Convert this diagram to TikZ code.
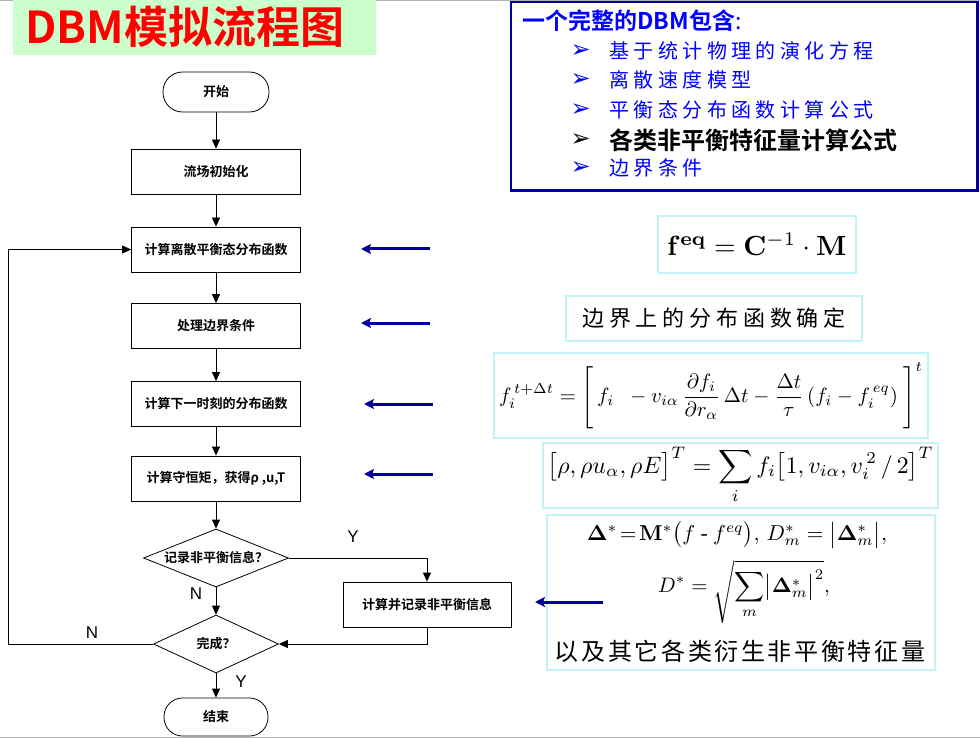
\RequirePackage{fix-cm}
\documentclass[tikz,border=0pt]{standalone}
\usepackage{amsmath}
\usepackage{graphicx}
\usepackage[no-math]{fontspec}
\setmainfont{Liberation Serif}
\newfontfamily\hei{Noto Sans CJK SC}[BoldFont={Noto Sans CJK SC Bold}]
\newfontfamily\kai{Noto Sans CJK SC}[LetterSpace=22]
\newfontfamily\song{Noto Sans CJK SC}[LetterSpace=11]
\newfontfamily\arial{Liberation Sans}
\newfontfamily\dejavu{DejaVu Sans}
\usetikzlibrary{arrows.meta,shapes.geometric}
\definecolor{navy}{RGB}{0,0,150}
\definecolor{boxblue}{RGB}{0,0,160}
\definecolor{txtblue}{RGB}{0,0,255}
\definecolor{cyanb}{RGB}{195,242,247}
\definecolor{titlegreen}{RGB}{204,255,204}
\tikzset{
  flow/.style={draw, line width=0.8pt, minimum width=169pt, minimum height=45pt, inner sep=0pt,
    font=\hei\bfseries\fontsize{13}{15}\selectfont},
  term/.style={draw, line width=0.8pt, rounded corners=19.5pt, minimum width=106pt, minimum height=40pt,
    inner sep=0pt, font=\hei\bfseries\fontsize{13}{15}\selectfont},
  dec/.style={diamond, draw, line width=0.8pt, inner sep=0pt, font=\hei\bfseries\fontsize{13}{15}\selectfont},
  arr/.style={line width=0.8pt, -{Triangle[width=8pt,length=9pt]}},
  barr/.style={navy, line width=3pt, -{Stealth[width=10pt,length=10pt,inset=2pt]}},
  cbox/.style={draw=cyanb, line width=2.5pt, inner sep=0pt},
  yn/.style={font=\arial\fontsize{17}{19}\selectfont},
  item/.style={anchor=west, txtblue, font=\kai\fontsize{20}{22}\selectfont},
  bul/.style={anchor=west, font=\dejavu\fontsize{24}{26}\selectfont},
}
\begin{document}
\begin{tikzpicture}[x=1pt,y=-1pt]
\useasboundingbox (0,0) rectangle (980,738);
\fill[white] (0,0) rectangle (980,738);
\draw[gray!60, line width=1.5pt] (0,0.75) -- (980,0.75);
\draw[gray!60, line width=1.5pt] (0,737.25) -- (980,737.25);

% title
\fill[titlegreen] (13,0) rectangle (376,55);
\node[anchor=west, red, font=\hei\bfseries\fontsize{44}{48}\selectfont] (title) at (22,27) {DBM模拟流程图};

% top-right info box
\draw[boxblue, line width=2.5pt] (511,2) rectangle (977.5,190.5);
\node[anchor=west, txtblue, font=\hei\fontsize{23}{26}\selectfont] (hdr) at (519,21) {{\bfseries 一个完整的DBM包含}:};
\node[bul, txtblue] (b1) at (567,51) {➢};
\node[item] (i1) at (606,51) {基于统计物理的演化方程};
\node[bul, txtblue] (b2) at (567,80) {➢};
\node[item] (i2) at (606,80) {离散速度模型};
\node[bul, txtblue] (b3) at (567,110) {➢};
\node[item] (i3) at (606,110) {平衡态分布函数计算公式};
\node[bul, black] (b4) at (567,140) {➢};
\node[anchor=west, font=\hei\bfseries\fontsize{24}{26}\selectfont] (i4) at (606,140) {各类非平衡特征量计算公式};
\node[bul, txtblue] (b5) at (567,168) {➢};
\node[item] (i5) at (606,168) {边界条件};

% flowchart
\node[term] (start) at (216,92) {开始};
\node[flow] (init) at (216,171.5) {流场初始化};
\node[flow] (eqm) at (216,249.5) {计算离散平衡态分布函数};
\node[flow] (bc) at (216,326) {处理边界条件};
\node[flow] (nxt) at (216,404) {计算下一时刻的分布函数};
\node[flow] (mom) at (216,478.5) {计算守恒矩，获得ρ ,u,T};
\node[dec, aspect=2.5, minimum width=145pt, minimum height=58pt] (d1) at (216,558) {记录非平衡信息？};
\node[flow, minimum width=168pt] (rec) at (427,604.5) {计算并记录非平衡信息};
\node[dec, aspect=2.16, minimum width=125pt, minimum height=58pt] (d2) at (216,644) {完成？};
\node[term, minimum width=104pt, minimum height=38pt, rounded corners=18.5pt] (fin) at (216,717) {结束};
\coordinate (lc) at (8,644);

\draw[arr] (start) -- (init);
\draw[arr] (init) -- (eqm);
\draw[arr] (eqm) -- (bc);
\draw[arr] (bc) -- (nxt);
\draw[arr] (nxt) -- (mom);
\draw[arr] (mom) -- (d1);
\draw[arr] (d1) -- (d2);
\draw[arr] (d1.east) -| (rec.north);
\draw[arr] (rec.south) |- (d2.east);
\draw[arr] (d2.west) -- (lc) |- (eqm.west);
\draw[arr] (d2) -- (fin);
\node[yn] (ly1) at (353,537) {Y};
\node[yn] (ln1) at (196,594) {N};
\node[yn] (ln2) at (92,633) {N};
\node[yn] (ly2) at (241,682) {Y};

% formula boxes
\node[cbox, minimum width=198pt, minimum height=57pt] (f1) at (757,244.5)
  {\resizebox{179pt}{!}{$\mathbf{f}^{\mathbf{eq}}=\mathbf{C}^{-1}\cdot\mathbf{M}$}};
\node[cbox, minimum width=296pt, minimum height=45pt] (f2) at (714,318.5)
  {\kai\fontsize{22}{24}\selectfont 边界上的分布函数确定};
\node[cbox, minimum width=434pt, minimum height=85pt] (f3) at (711,395.5)
  {\resizebox{424pt}{!}{$\displaystyle f_i^{\,t+\Delta t}=\Biggl[\,f_i\;\;-v_{i\alpha}\,\frac{\partial f_i}{\partial r_\alpha}\,\Delta t-\frac{\Delta t}{\tau}\,(f_i-f_i^{\,eq})\;\Biggr]^t$}};
\node[cbox, minimum width=395pt, minimum height=65pt] (f4) at (740.5,475.5)
  {\resizebox{386pt}{!}{$\displaystyle \bigl[\rho,\rho u_\alpha,\rho E\bigr]^T=\sum_i f_i\bigl[1,v_{i\alpha},v_i^{\,2}\,/\,2\bigr]^T$}};
\node[cbox, minimum width=388pt, minimum height=155pt] (f5) at (741,592.5) {};
\node[inner sep=0pt] (f5a) at (737,535)
  {\resizebox{300pt}{!}{$\mathbf{\Delta}^{*}\!=\!\mathbf{M}^{*}\bigl(f\ \textrm{-}\ f^{eq}\bigr),\,D_m^{*}=\bigl|\mathbf{\Delta}_m^{*}\bigr|,$}};
\node[inner sep=0pt] (f5b) at (744,592)
  {\resizebox{172pt}{!}{$\displaystyle D^{*}=\sqrt{\sum_m\bigl|\mathbf{\Delta}_m^{*}\bigr|^2},$}};
\node[font=\song\fontsize{24}{26}\selectfont] (f5c) at (740,651) {以及其它各类衍生非平衡特征量};

% blue arrows
\coordinate (a1s) at (430,249); \coordinate (a1e) at (361,249);
\coordinate (a2s) at (430,323); \coordinate (a2e) at (361,323);
\coordinate (a3s) at (433,404); \coordinate (a3e) at (364,404);
\coordinate (a4s) at (433,474); \coordinate (a4e) at (364,474);
\coordinate (a5s) at (603,602); \coordinate (a5e) at (535,602);
\draw[barr] (a1s) -- (a1e);
\draw[barr] (a2s) -- (a2e);
\draw[barr] (a3s) -- (a3e);
\draw[barr] (a4s) -- (a4e);
\draw[barr] (a5s) -- (a5e);
\end{tikzpicture}
\end{document}
